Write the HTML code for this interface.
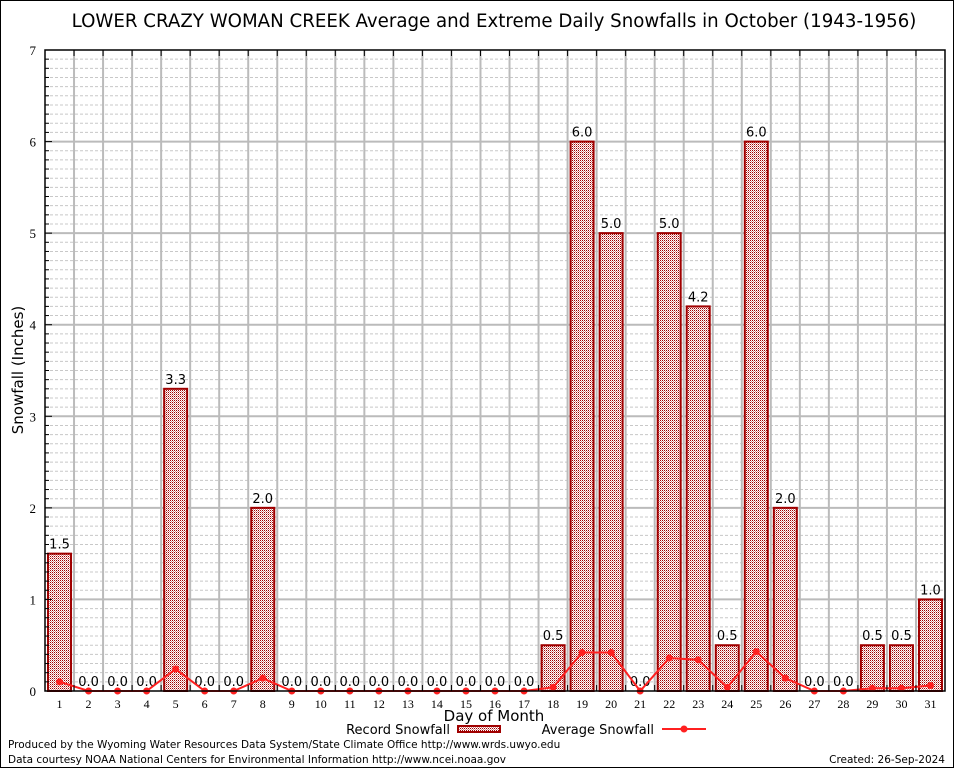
<!DOCTYPE html>
<html><head><meta charset="utf-8"><style>
html,body{margin:0;padding:0;background:#fff;}
svg{display:block;}
</style></head><body>
<svg id="chart" width="954" height="768" xmlns="http://www.w3.org/2000/svg" font-family="DejaVu Sans, sans-serif">
<defs>
<pattern id="chk" width="2" height="2" patternUnits="userSpaceOnUse">
<rect width="2" height="2" fill="#ffffff"/>
<rect width="1" height="1" fill="#a00000"/>
<rect x="1" y="1" width="1" height="1" fill="#d89090"/>
</pattern>
</defs>
<rect x="0.5" y="0.5" width="953" height="767" fill="#fff" stroke="#000"/>
<text x="494" y="27" font-size="18.2" text-anchor="middle">LOWER CRAZY WOMAN CREEK Average and Extreme Daily Snowfalls in October (1943-1956)</text>
<g id="grid"></g>
<g id="bars"></g>
<g id="avg"></g>
<g id="axes"></g>
<text x="23" y="370" font-size="15" text-anchor="middle" transform="rotate(-90 23 370)">Snowfall (Inches)</text>
<text x="494" y="721" font-size="15" text-anchor="middle">Day of Month</text>
<g>
<text x="450" y="734" font-size="13" text-anchor="end">Record Snowfall</text>
<rect x="458" y="726" width="42" height="6" fill="url(#chk)" stroke="#a00000" stroke-width="2"/>
<text x="654" y="734" font-size="13" text-anchor="end">Average Snowfall</text>
<line x1="662" y1="729" x2="706" y2="729" stroke="#ff2020" stroke-width="2"/>
<circle cx="684" cy="729" r="3.5" fill="#ff2020"/>
</g>
<text x="8" y="748" font-size="10.5">Produced by the Wyoming Water Resources Data System/State Climate Office http://www.wrds.uwyo.edu</text>
<text x="8" y="763" font-size="10.5">Data courtesy NOAA National Centers for Environmental Information http://www.ncei.noaa.gov</text>
<text x="945" y="763" font-size="10.5" text-anchor="end">Created: 26-Sep-2024</text>
</svg>
<script>
const days = [1,2,3,4,5,6,7,8,9,10,11,12,13,14,15,16,17,18,19,20,21,22,23,24,25,26,27,28,29,30,31];
const recordSnow = [1.5,0,0,0,3.3,0,0,2.0,0,0,0,0,0,0,0,0,0,0.5,6.0,5.0,0,5.0,4.2,0.5,6.0,2.0,0,0,0.5,0.5,1.0];
const avgSnow = [0.10,0,0,0,0.24,0,0,0.14,0,0,0,0,0,0,0,0,0,0.04,0.42,0.42,0,0.36,0.34,0.04,0.43,0.14,0,0,0.03,0.03,0.06];
const yTicks = [0,1,2,3,4,5,6,7];

const NS='http://www.w3.org/2000/svg';
const L=45,R=945,T=50,B=691,YMAX=7;
const step=(R-L)/days.length;
const xC=d=>L+(d-0.5)*step;
const y=v=>B-(v/YMAX)*(B-T);
function mk(tag,attrs,parent){const e=document.createElementNS(NS,tag);for(const k in attrs)e.setAttribute(k,attrs[k]);parent.appendChild(e);return e;}
const grid=document.getElementById('grid'),bars=document.getElementById('bars'),avg=document.getElementById('avg'),axes=document.getElementById('axes');

for(let i=1;i<YMAX*10;i++){
  if(i%10===0)continue;
  const l=mk('line',{x1:L,x2:R,y1:y(i/10),y2:y(i/10),stroke:'#c8c8c8','stroke-dasharray':'3,2','stroke-width':1},grid);
  
  
}
yTicks.forEach(t=>{
  if(t>0&&t<YMAX){
    const l=mk('line',{x1:L,x2:R,y1:y(t),y2:y(t),stroke:'#bbbbbb','stroke-width':2},grid);
    
    
  }
  const tx=mk('text',{x:L-9,y:y(t)+5,'font-size':13,'text-anchor':'end','font-family':'Liberation Serif, serif'},axes);
  tx.textContent=t;
  
  
  const tk=mk('line',{x1:L,x2:L+7,y1:y(t),y2:y(t),stroke:'#000'},axes);
  
  
  for(let m=1;m<10&&t<YMAX;m++){
    const mt=mk('line',{x1:L,x2:L+4,y1:y(t+m/10),y2:y(t+m/10),stroke:'#000'},axes);
    
    
  }
});
for(let k=1;k<days.length;k++){
  const x=L+k*step;
  const l=mk('line',{x1:x,x2:x,y1:T,y2:B,stroke:'#bbbbbb','stroke-width':2},grid);
  
  
  const t1=mk('line',{x1:x,x2:x,y1:T,y2:T+6,stroke:'#000'},axes);
  
  
  const t2=mk('line',{x1:x,x2:x,y1:B,y2:B-6,stroke:'#000'},axes);
  
  
}
days.forEach((d,i)=>{
  const v=recordSnow[i],cx=xC(d);
  if(v>0){
    const r=mk('rect',{x:cx-11.5,y:y(v),width:23,height:B-y(v),fill:'url(#chk)',stroke:'#a00000','stroke-width':2},bars);
    
    
  }
  const lb=mk('text',{x:cx,y:y(v)-5,'font-size':13,'text-anchor':'middle'},bars);
  lb.textContent=v.toFixed(1);
  
  
  const xl=mk('text',{x:cx,y:B+17,'font-size':12,'text-anchor':'middle','font-family':'Liberation Serif, serif'},axes);
  xl.textContent=d;
  
  
});
const pl=mk('polyline',{points:days.map((d,i)=>xC(d)+','+y(avgSnow[i])).join(' '),fill:'none',stroke:'#ff2020','stroke-width':2},avg);


days.forEach((d,i)=>{
  const c=mk('circle',{cx:xC(d),cy:y(avgSnow[i]),r:3.5,fill:'#ff2020'},avg);
  
  
});
const fr=mk('rect',{x:L,y:T,width:R-L,height:B-T,fill:'none',stroke:'#000','stroke-width':1.5},axes);


</script>
</body></html>
